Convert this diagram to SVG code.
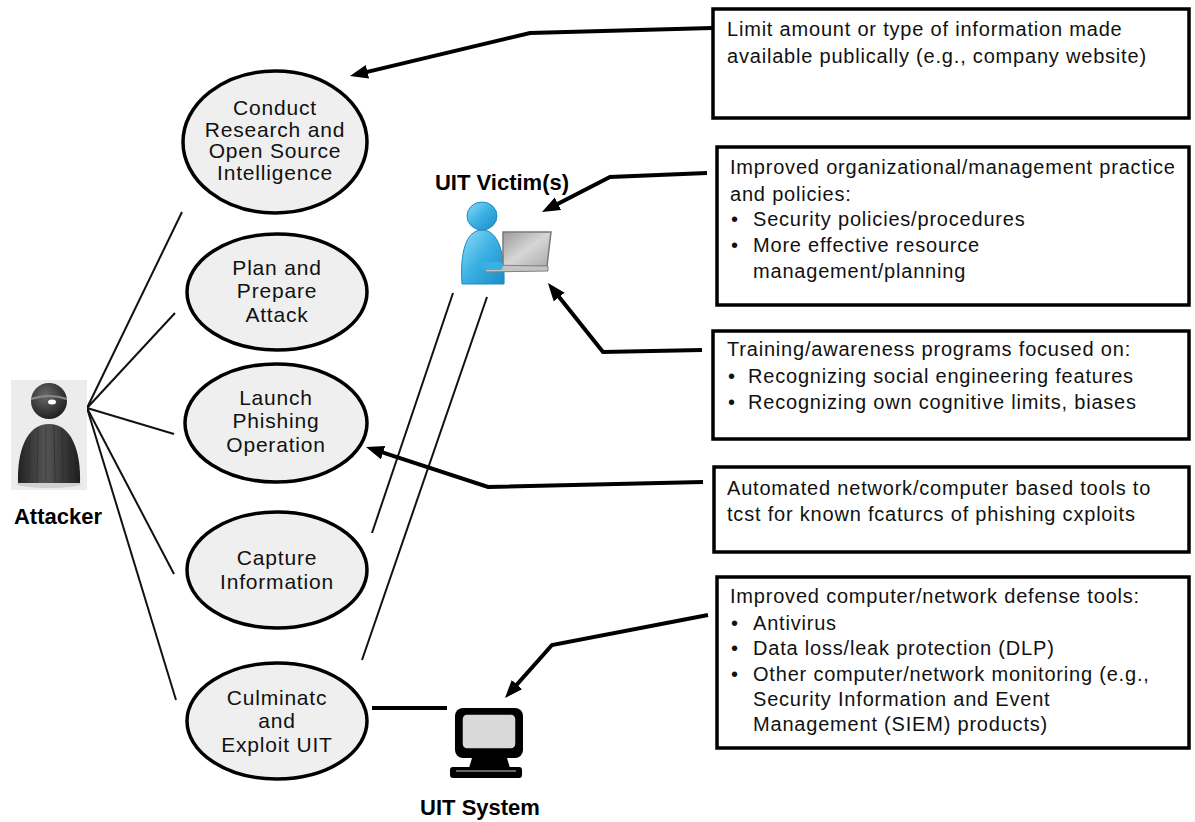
<svg xmlns="http://www.w3.org/2000/svg" width="1195" height="822" viewBox="0 0 1195 822">
<style>
.ell{fill:#efefef;stroke:#000;stroke-width:3.5}
.nt{font-family:"Liberation Sans",Arial,sans-serif;font-size:21px;letter-spacing:0.8px;text-anchor:middle;fill:#111}
.bx{fill:#fff;stroke:#000;stroke-width:3.5}
.bt{font-family:"Liberation Sans",Arial,sans-serif;font-size:20px;letter-spacing:0.8px;fill:#111}
.lb{font-family:"Liberation Sans",Arial,sans-serif;font-size:22px;font-weight:bold;text-anchor:middle;fill:#000}
.thin{fill:none;stroke:#111;stroke-width:2}
.arr{fill:none;stroke:#000;stroke-width:4;stroke-linejoin:miter;marker-end:url(#ah)}
</style>
<defs>
<marker id="ah" markerUnits="userSpaceOnUse" markerWidth="20" markerHeight="16" refX="12" refY="7" orient="auto">
<path d="M0,0 L18,7 L0,14 Z" fill="#000"/>
</marker>
<linearGradient id="gBody" x1="0" y1="0" x2="1" y2="0">
<stop offset="0" stop-color="#222"/><stop offset="0.45" stop-color="#555"/><stop offset="1" stop-color="#1e1e1e"/>
</linearGradient>
<radialGradient id="gHead" cx="0.4" cy="0.35" r="0.7">
<stop offset="0" stop-color="#6a6a6a"/><stop offset="1" stop-color="#1c1c1c"/>
</radialGradient>
<linearGradient id="gBlue" x1="0" y1="0" x2="1" y2="1">
<stop offset="0" stop-color="#8fdcf7"/><stop offset="0.5" stop-color="#3ab0e2"/><stop offset="1" stop-color="#1c8cc6"/>
</linearGradient>
<linearGradient id="gScreen" x1="0" y1="0" x2="1" y2="1">
<stop offset="0" stop-color="#9a9a9a"/><stop offset="0.5" stop-color="#d6d6d6"/><stop offset="1" stop-color="#aaaaaa"/>
</linearGradient>
</defs>

<g id="connectors">
<line class="thin" x1="87" y1="408" x2="182" y2="212"/>
<line class="thin" x1="87" y1="408" x2="175" y2="313"/>
<line class="thin" x1="87" y1="408" x2="174" y2="434"/>
<line class="thin" x1="87" y1="408" x2="174" y2="574"/>
<line class="thin" x1="87" y1="408" x2="176" y2="700"/>
<line class="thin" x1="453" y1="293" x2="372" y2="533"/>
<line class="thin" x1="487" y1="297" x2="362" y2="660"/>
<line x1="372" y1="708" x2="447" y2="708" stroke="#000" stroke-width="4"/>
<polyline class="arr" points="712,28 530,33 355.8,74.6"/>
<polyline class="arr" points="707,173 610,177 547.3,209.3"/>
<polyline class="arr" points="702,350 603,352 551.7,287.7"/>
<polyline class="arr" points="703,482 488,487 371.7,448.9"/>
<polyline class="arr" points="708,615 552,645 509,693.5"/>
</g>

<g id="attacker">
<rect x="11" y="380" width="76" height="110" fill="#ececec"/>
<ellipse cx="49" cy="484" rx="32" ry="4" fill="#d0d0d0"/>
<path d="M18,483 C17,452 26,424 49,424 C72,424 81,452 80,483 Z" fill="url(#gBody)"/>
<g stroke="#2a2a2a" stroke-width="1" opacity="0.6">
<line x1="30" y1="436" x2="28" y2="482"/><line x1="38" y1="428" x2="37" y2="482"/><line x1="46" y1="425" x2="46" y2="482"/>
<line x1="54" y1="425" x2="55" y2="482"/><line x1="62" y1="428" x2="63" y2="482"/><line x1="70" y1="436" x2="71" y2="482"/>
</g>
<circle cx="49" cy="401" r="18" fill="url(#gHead)"/>
<path d="M31,399 Q49,393 67,399" fill="none" stroke="#8a8a8a" stroke-width="2"/>
<ellipse cx="52" cy="402" rx="4" ry="2.5" fill="#fff"/>
<text class="lb" x="58" y="524">Attacker</text>
</g>

<g id="victim">
<path d="M462,284 C460,255 465,230 482,230 C499,230 505,255 504,284 Z" fill="url(#gBlue)" stroke="#1e8bc3" stroke-width="1"/>
<ellipse cx="482" cy="216" rx="15" ry="14" fill="url(#gBlue)" stroke="#1e8bc3" stroke-width="1"/>
<polygon points="503,232 551,232 547,266 503,267" fill="url(#gScreen)" stroke="#7a7a7a" stroke-width="1.5"/>
<polygon points="485,265 548,266 548,271 486,272" fill="#c4c4c4" stroke="#808080" stroke-width="1"/>
<rect x="481" y="262" width="22" height="8" rx="4" fill="#3ab0e2"/>
<text class="lb" x="502" y="190">UIT Victim(s)</text>
</g>

<g id="uit-system">
<rect x="455" y="708" width="68" height="50" rx="8" fill="#000"/>
<rect x="462" y="714" width="54" height="35" rx="5" fill="#d9d9d9" stroke="#000" stroke-width="1.5"/>
<path d="M472,758 L507,758 L510,768 L469,768 Z" fill="#000"/>
<rect x="450" y="767" width="72" height="11" rx="3" fill="#000"/>
<line x1="456" y1="771" x2="516" y2="771" stroke="#8a8a8a" stroke-width="1.5"/>
<text class="lb" x="480" y="815">UIT System</text>
</g>

<g id="n-conduct">
<ellipse class="ell" cx="275" cy="142" rx="92" ry="71"/>
<text class="nt" x="275" y="115">Conduct</text>
<text class="nt" x="275" y="137">Research and</text>
<text class="nt" x="275" y="158">Open Source</text>
<text class="nt" x="275" y="180">Intelligence</text>
</g>
<g id="n-plan">
<ellipse class="ell" cx="277" cy="292" rx="90" ry="58"/>
<text class="nt" x="277" y="275">Plan and</text>
<text class="nt" x="277" y="298">Prepare</text>
<text class="nt" x="277" y="322">Attack</text>
</g>
<g id="n-launch">
<ellipse class="ell" cx="276" cy="423" rx="91" ry="59"/>
<text class="nt" x="276" y="405">Launch</text>
<text class="nt" x="276" y="428">Phishing</text>
<text class="nt" x="276" y="452">Operation</text>
</g>
<g id="n-capture">
<ellipse class="ell" cx="277" cy="570" rx="90" ry="58"/>
<text class="nt" x="277" y="565">Capture</text>
<text class="nt" x="277" y="589">Information</text>
</g>
<g id="n-culminate">
<ellipse class="ell" cx="277" cy="721" rx="90" ry="58"/>
<text class="nt" x="277" y="705">Culminatc</text>
<text class="nt" x="277" y="728">and</text>
<text class="nt" x="277" y="752">Exploit UIT</text>
</g>

<g id="b-limit">
<rect class="bx" x="713" y="9" width="476" height="109"/>
<text class="bt" x="727" y="36">Limit amount or type of information made</text>
<text class="bt" x="727" y="63">available publically (e.g., company website)</text>
</g>
<g id="b-org">
<rect class="bx" x="717" y="147" width="472" height="158"/>
<text class="bt" x="730" y="174">Improved organizational/management practice</text>
<text class="bt" x="730" y="201">and policies:</text>
<text class="bt" x="731" y="226">•</text><text class="bt" x="753" y="226">Security policies/procedures</text>
<text class="bt" x="731" y="252">•</text><text class="bt" x="753" y="252">More effective resource</text>
<text class="bt" x="753" y="278">management/planning</text>
</g>
<g id="b-training">
<rect class="bx" x="713" y="331" width="476" height="108"/>
<text class="bt" x="727" y="356">Training/awareness programs focused on:</text>
<text class="bt" x="728" y="383">•</text><text class="bt" x="748" y="383">Recognizing social engineering features</text>
<text class="bt" x="728" y="409">•</text><text class="bt" x="748" y="409">Recognizing own cognitive limits, biases</text>
</g>
<g id="b-automated">
<rect class="bx" x="714" y="467" width="475" height="85"/>
<text class="bt" x="727" y="495">Automated network/computer based tools to</text>
<text class="bt" x="727" y="521">tcst for known fcaturcs of phishing cxploits</text>
</g>
<g id="b-defense">
<rect class="bx" x="717" y="577" width="472" height="171"/>
<text class="bt" x="730" y="603">Improved computer/network defense tools:</text>
<text class="bt" x="731" y="630">•</text><text class="bt" x="753" y="630">Antivirus</text>
<text class="bt" x="731" y="655">•</text><text class="bt" x="753" y="655">Data loss/leak protection (DLP)</text>
<text class="bt" x="731" y="681">•</text><text class="bt" x="753" y="681">Other computer/network monitoring (e.g.,</text>
<text class="bt" x="753" y="706">Security Information and Event</text>
<text class="bt" x="753" y="731">Management (SIEM) products)</text>
</g>
</svg>
